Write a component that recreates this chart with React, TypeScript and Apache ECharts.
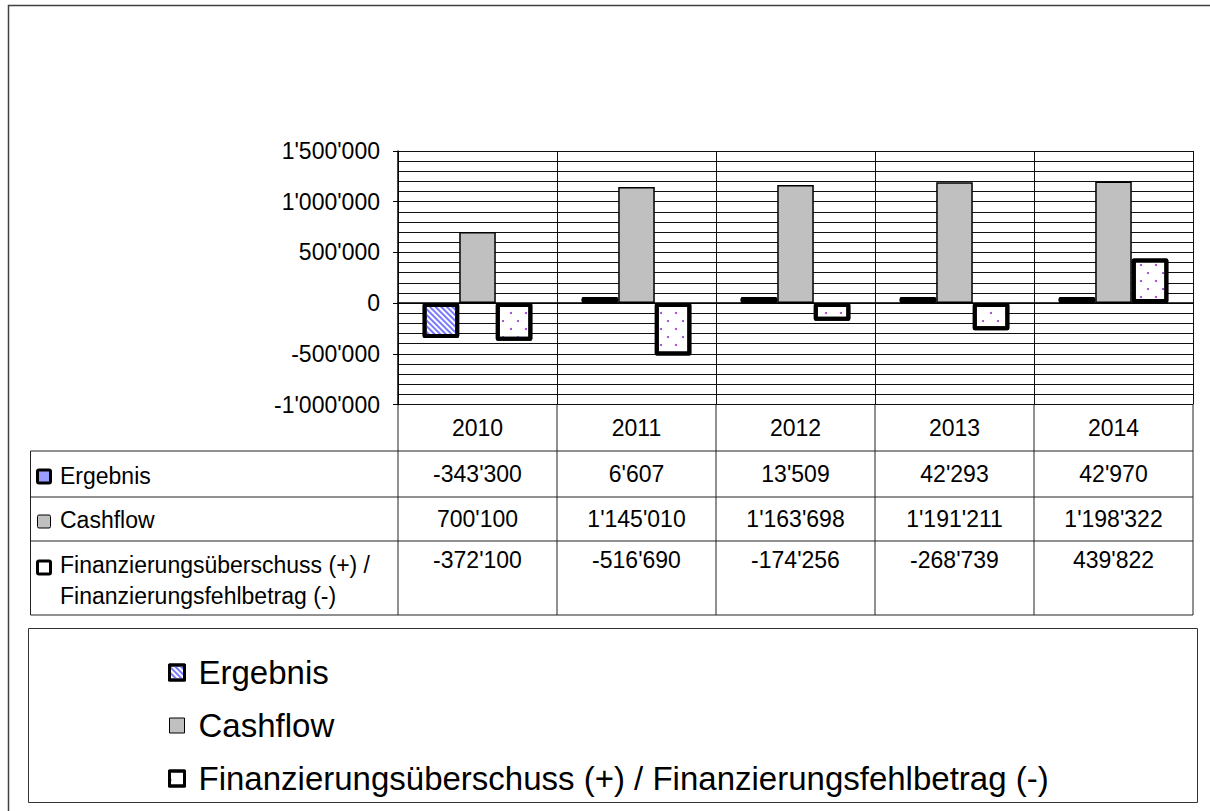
import React, { useEffect, useRef } from "react";
import * as echarts from "echarts";

// ---- data ----
const years = ["2010", "2011", "2012", "2013", "2014"];
const ergebnis = [-343300, 6607, 13509, 42293, 42970];
const cashflow = [700100, 1145010, 1163698, 1191211, 1198322];
const finanz = [-372100, -516690, -174256, -268739, 439822];
const seriesNames = [
  "Ergebnis",
  "Cashflow",
  "Finanzierungsüberschuss (+) / Finanzierungsfehlbetrag (-)",
];
const tableLabels = [
  ["Ergebnis"],
  ["Cashflow"],
  ["Finanzierungsüberschuss (+) /", "Finanzierungsfehlbetrag (-)"],
];
const yMin = -1000000;
const yMax = 1500000;
const yInterval = 500000;

// ---- layout ----
const FONT = "'Liberation Sans', Arial, Helvetica, sans-serif";
const GRID_LEFT = 398;
const GRID_TOP = 151;
const GRID_W = 795;
const GRID_H = 253.5;
const TABLE_LEFT = 30.5;
const ROW_LINES = [451, 497, 541, 615];

function fmt(v: number): string {
  const s = Math.abs(Math.round(v))
    .toString()
    .replace(/\B(?=(\d{3})+(?!\d))/g, "'");
  return (v < 0 ? "-" : "") + s;
}

export default function App() {
  const ref = useRef<HTMLDivElement>(null);

  useEffect(() => {
    if (!ref.current) return;
    const chart = echarts.init(ref.current, undefined, { renderer: "svg" });

    const colW = GRID_W / years.length;
    const gridBottom = GRID_TOP + GRID_H;
    const gridRight = GRID_LEFT + GRID_W;
    const lineStyle = { stroke: "#222", lineWidth: 1 };

    const graphics: any[] = [];
    // outer frame
    graphics.push({
      type: "rect",
      silent: true,
      shape: { x: 8.5, y: 5.5, width: 1400, height: 1000 },
      style: { fill: "none", stroke: "#404040", lineWidth: 1.5 },
    });
    // table horizontal lines
    ROW_LINES.forEach((y) => {
      graphics.push({
        type: "line",
        silent: true,
        shape: { x1: TABLE_LEFT, y1: y, x2: gridRight, y2: y },
        style: lineStyle,
      });
    });
    // table left edge
    graphics.push({
      type: "line",
      silent: true,
      shape: { x1: TABLE_LEFT, y1: ROW_LINES[0], x2: TABLE_LEFT, y2: ROW_LINES[3] },
      style: lineStyle,
    });
    // column boundaries
    for (let i = 0; i <= years.length; i++) {
      const x = GRID_LEFT + i * colW;
      graphics.push({
        type: "line",
        silent: true,
        shape: { x1: x, y1: gridBottom, x2: x, y2: ROW_LINES[3] },
        style: lineStyle,
      });
    }
    // row labels and icons
    const labelY = [[476], [520], [565, 596]];
    const iconY = [476.5, 521.5, 567.5];
    const iconStyles = [
      { fill: "#9c9cff", stroke: "#000", lineWidth: 3 },
      { fill: "#c0c0c0", stroke: "#000", lineWidth: 1 },
      { fill: "#ffffff", stroke: "#000", lineWidth: 3 },
    ];
    tableLabels.forEach((lines, r) => {
      graphics.push({
        type: "rect",
        silent: true,
        shape: { x: 37.5, y: iconY[r] - 6.5, width: 13, height: 13, r: 1.5 },
        style: iconStyles[r],
      });
      lines.forEach((t, k) => {
        graphics.push({
          type: "text",
          silent: true,
          x: 60,
          y: labelY[r][k],
          style: {
            text: t,
            fontSize: 23,
            fontFamily: FONT,
            fill: "#000",
            align: "left",
            verticalAlign: "middle",
          },
        });
      });
    });
    // table values
    const rows = [ergebnis, cashflow, finanz];
    const valueY = [474, 519, 560];
    rows.forEach((vals, r) => {
      vals.forEach((v, i) => {
        graphics.push({
          type: "text",
          silent: true,
          x: GRID_LEFT + (i + 0.5) * colW,
          y: valueY[r],
          style: {
            text: fmt(v),
            fontSize: 23,
            fontFamily: FONT,
            fill: "#000",
            align: "center",
            verticalAlign: "middle",
          },
        });
      });
    });
    // legend box
    graphics.push({
      type: "rect",
      silent: true,
      shape: { x: 28.5, y: 628.5, width: 1169, height: 174 },
      style: { fill: "none", stroke: "#333", lineWidth: 1 },
    });

    const option: any = {
      animation: false,
      backgroundColor: "#ffffff",
      textStyle: { fontFamily: FONT },
      grid: {
        left: GRID_LEFT,
        top: GRID_TOP,
        width: GRID_W,
        height: GRID_H,
        containLabel: false,
      },
      legend: {
        orient: "vertical",
        left: 163,
        top: 651,
        itemWidth: 15,
        itemHeight: 15,
        itemGap: 20,
        icon: "rect",
        selectedMode: false,
        textStyle: {
          fontSize: 33,
          lineHeight: 32,
          color: "#000",
          fontFamily: FONT,
          padding: [0, 0, 0, 9],
        },
        data: [
          { name: seriesNames[0], itemStyle: { borderWidth: 3 } },
          { name: seriesNames[1], itemStyle: { borderWidth: 1 } },
          { name: seriesNames[2], itemStyle: { borderWidth: 3 } },
        ],
      },
      xAxis: {
        type: "category",
        data: years,
        axisLine: { show: true, lineStyle: { color: "#000", width: 1.5 } },
        axisTick: { show: false },
        axisLabel: { fontSize: 23, color: "#000", margin: 12, fontFamily: FONT },
        splitLine: { show: true, lineStyle: { color: "#111", width: 1 } },
      },
      yAxis: {
        type: "value",
        min: yMin,
        max: yMax,
        interval: yInterval,
        axisLine: { show: true, lineStyle: { color: "#000", width: 1.5 } },
        axisTick: { show: true, length: 5, lineStyle: { color: "#000" } },
        axisLabel: {
          fontSize: 23,
          color: "#000",
          margin: 18,
          fontFamily: FONT,
          formatter: (v: number) => fmt(v),
        },
        splitLine: { show: true, lineStyle: { color: "#111", width: 1 } },
        minorTick: { show: false, splitNumber: 5 },
        minorSplitLine: { show: true, lineStyle: { color: "#111", width: 1 } },
      },
      series: [
        {
          name: seriesNames[0],
          type: "bar",
          data: ergebnis,
          barGap: "0%",
          barCategoryGap: "31%",
          barMinHeight: 6,
          itemStyle: {
            color: "#ffffff",
            borderColor: "#000",
            borderWidth: 4,
            borderJoin: "round",
            decal: {
              symbol: "rect",
              symbolSize: 1,
              dashArrayX: [1, 0],
              dashArrayY: [2, 2],
              rotation: Math.PI / 4,
              color: "#7a7aff",
            },
          },
        },
        {
          name: seriesNames[1],
          type: "bar",
          data: cashflow,
          barGap: "0%",
          barCategoryGap: "31%",
          itemStyle: {
            color: "#c0c0c0",
            borderColor: "#000",
            borderWidth: 1.5,
          },
        },
        {
          name: seriesNames[2],
          type: "bar",
          data: finanz,
          barGap: "0%",
          barCategoryGap: "31%",
          itemStyle: {
            color: "#ffffff",
            borderColor: "#000",
            borderWidth: 4,
            borderJoin: "round",
            decal: {
              symbol: "circle",
              symbolSize: 1,
              dashArrayX: [
                [2, 13],
                [0, 7, 2, 6],
              ],
              dashArrayY: [2, 6],
              color: "#9933cc",
            },
          },
        },
      ],
      graphic: graphics,
    };

    chart.setOption(option);
    return () => {
      chart.dispose();
    };
  }, []);

  return (
    <div
      ref={ref}
      style={{ position: "absolute", left: 0, top: 0, width: 1210, height: 811 }}
    />
  );
}
